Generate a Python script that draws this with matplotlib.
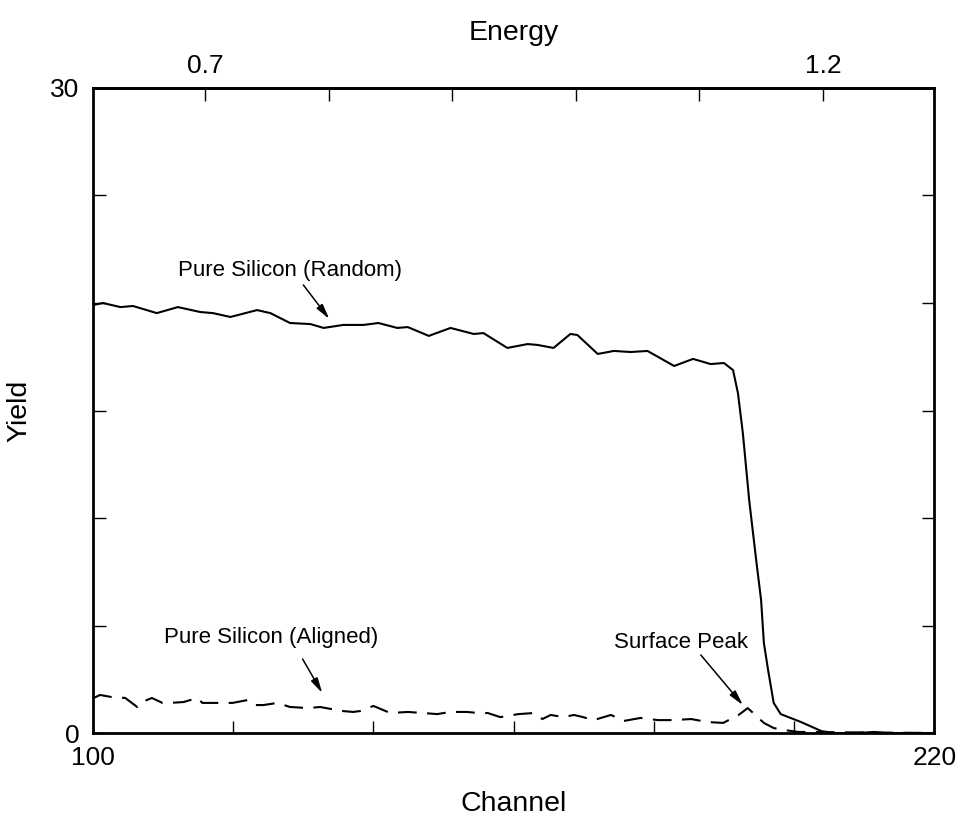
import numpy as np
import matplotlib
matplotlib.use('Agg')
import matplotlib.pyplot as plt

plt.rcParams['font.family'] = ['Liberation Sans', 'DejaVu Sans']

# random spectrum (channel, yield)
rand_ch = [100.1, 101.4, 103.9, 105.7, 109.1, 112.1, 115.3, 117.1, 119.6, 123.4,
           125.3, 128.1, 131.0, 132.9, 135.7, 138.6, 140.7, 143.4, 144.9, 147.9,
           151.0, 154.3, 155.7, 159.1, 162.0, 163.4, 165.7, 168.1, 169.1, 172.0,
           174.3, 176.7, 179.1, 182.9, 185.6, 188.1, 190.0, 191.3, 192.0, 192.7,
           193.6, 194.6, 195.3, 195.7, 196.3, 197.1, 198.1, 201.0, 203.9, 205.7,
           209.0, 211.4, 213.0, 220.0]
rand_y = [19.91, 20.0, 19.81, 19.86, 19.53, 19.81, 19.58, 19.53, 19.35, 19.67,
          19.53, 19.07, 19.02, 18.84, 18.98, 18.98, 19.07, 18.84, 18.88, 18.47,
          18.84, 18.56, 18.60, 17.91, 18.09, 18.05, 17.91, 18.56, 18.51, 17.63,
          17.77, 17.72, 17.77, 17.07, 17.40, 17.16, 17.21, 16.88, 15.81, 13.95,
          10.84, 8.05, 6.19, 4.19, 2.93, 1.40, 0.88, 0.51, 0.09, 0.0,
          0.0, 0.05, 0.0, 0.0]

# aligned spectrum
align_ch = [100.1, 101.0, 102.7, 104.6, 106.3, 106.7, 108.4, 109.9, 111.0, 112.9,
            114.9, 115.6, 117.0, 119.9, 122.0, 122.9, 124.3, 126.3, 128.1, 130.7,
            132.4, 133.9, 135.7, 137.1, 138.1, 140.0, 142.4, 144.9, 147.1, 149.1,
            151.0, 153.4, 154.9, 156.3, 158.1, 160.7, 162.9, 164.1, 165.3, 167.1,
            168.6, 169.9, 171.4, 173.9, 175.7, 178.1, 180.6, 182.9, 185.3, 187.7,
            189.9, 192.1, 193.4, 195.7, 197.1, 198.6, 200.6, 220.0]
align_y = [1.63, 1.77, 1.67, 1.63, 1.21, 1.40, 1.63, 1.40, 1.40, 1.44,
           1.63, 1.40, 1.40, 1.40, 1.53, 1.30, 1.30, 1.40, 1.21, 1.16,
           1.21, 1.12, 1.02, 0.98, 1.02, 1.26, 0.93, 0.98, 0.93, 0.88,
           0.98, 0.98, 0.93, 0.93, 0.74, 0.88, 0.93, 0.65, 0.84, 0.74,
           0.84, 0.74, 0.60, 0.84, 0.56, 0.70, 0.60, 0.60, 0.65, 0.51,
           0.47, 0.84, 1.16, 0.47, 0.23, 0.14, 0.05, 0.0]

x_ticks = [100, 120, 140, 160, 180, 200, 220]
x_labels = ['100', '', '', '', '', '', '220']
y_ticks = [0, 5, 10, 15, 20, 25, 30]
y_labels = ['0', '', '', '', '', '', '30']
e_ticks = [0.7, 0.8, 0.9, 1.0, 1.1, 1.2]
e_labels = ['0.7', '', '', '', '', '1.2']

# channel <-> energy (linear)
ch0, e0 = 116.0, 0.7
slope = 0.5 / 88.14

def ch2e(c):
    return e0 + (np.asarray(c) - ch0) * slope

def e2ch(e):
    return ch0 + (np.asarray(e) - e0) / slope

tfs = 19      # tick labels
lfs = 20.5    # axis titles
afs = 16      # annotations

fig = plt.figure(figsize=(9.57, 8.17), dpi=100)
ax = fig.add_axes([0.0972, 0.1028, 0.879, 0.7895])

ax.plot(rand_ch, rand_y, color='black', lw=1.5)
ax.plot(align_ch, align_y, color='black', lw=1.5, ls=(0, (9, 5)))

ax.set_xlim(100, 220)
ax.set_ylim(0, 30)
ax.set_xticks(x_ticks)
ax.set_xticklabels(x_labels)
ax.set_yticks(y_ticks)
ax.set_yticklabels(y_labels)
ax.tick_params(direction='in', length=9, width=1, labelsize=tfs,
               right=True, top=False)
ax.tick_params(axis='x', pad=9)
ax.tick_params(axis='y', pad=10)
for s in ax.spines.values():
    s.set_linewidth(2)

ax.set_xlabel('Channel', fontsize=lfs)
ax.xaxis.set_label_coords(0.5, -0.09)
ax.set_ylabel('Yield', fontsize=lfs)
ax.yaxis.set_label_coords(-0.072, 0.5)

sec = ax.secondary_xaxis('top', functions=(ch2e, e2ch))
sec.set_xticks(e_ticks)
sec.set_xticklabels(e_labels)
sec.tick_params(direction='in', length=9, width=1, labelsize=tfs, pad=7)
sec.spines['top'].set_linewidth(2)
sec.set_xlabel('Energy', fontsize=lfs, labelpad=10)

arrow = dict(arrowstyle='-|>,head_length=0.9,head_width=0.22', color='black',
             lw=1.1, shrinkA=0, shrinkB=0)

ax.text(128.1, 21.53, 'Pure Silicon (Random)', fontsize=afs, ha='center', va='center')
ax.annotate('', xy=(133.7, 19.26), xytext=(130.0, 20.84), arrowprops=arrow)

ax.text(125.4, 4.42, 'Pure Silicon (Aligned)', fontsize=afs, ha='center', va='center')
ax.annotate('', xy=(132.7, 1.86), xytext=(129.9, 3.44), arrowprops=arrow)

ax.text(183.9, 4.23, 'Surface Peak', fontsize=afs, ha='center', va='center')
ax.annotate('', xy=(192.7, 1.30), xytext=(186.7, 3.63), arrowprops=arrow)

fig.savefig('out.png', dpi=100)
